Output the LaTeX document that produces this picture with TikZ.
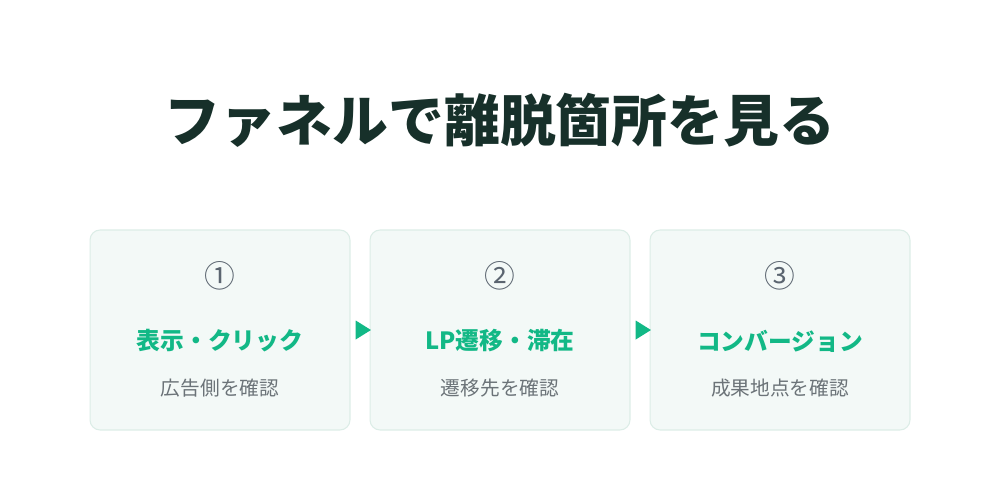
\documentclass[tikz,border=0pt]{standalone}
\usepackage{fontspec}
\setmainfont{Noto Sans CJK JP}
\usetikzlibrary{shapes.geometric}
\definecolor{titleink}{HTML}{17302A}
\definecolor{mint}{HTML}{12B886}
\definecolor{numink}{HTML}{5B6570}
\definecolor{subink}{HTML}{6B7378}
\definecolor{cardfill}{HTML}{F3F9F7}
\definecolor{cardline}{HTML}{DCEDE7}
\tikzset{
  cardbox/.style={draw=cardline, fill=cardfill, line width=0.6pt, rounded corners=0.2cm,
    minimum width=5.2cm, minimum height=4cm, inner sep=0pt},
  numtxt/.style={text=numink, font=\fontsize{17.5}{18}\selectfont},
  headtxt/.style={text=mint, font=\fontsize{13.5}{14}\selectfont\bfseries},
  subtxt/.style={text=subink, font=\fontsize{11.2}{12}\selectfont},
  pointer/.style={isosceles triangle, isosceles triangle apex angle=64, fill=mint,
    inner sep=0pt, minimum height=0.24cm, minimum width=0.38cm}
}
\begin{document}
\begin{tikzpicture}[x=0.02cm,y=-0.02cm]
      \useasboundingbox[fill=white] (0,0) rectangle (1000,480);
      \node[text=titleink, font=\fontsize{31.8}{32}\selectfont\bfseries] (title) at (500,120) {ファネルで離脱箇所を見る};
      % three cards
      \node[cardbox] (card1) at (220,330) {};
      \node[cardbox] (card2) at (500,330) {};
      \node[cardbox] (card3) at (780,330) {};
      \node[numtxt] (num1) at (220,276) {①};
      \node[numtxt] (num2) at (500,276) {②};
      \node[numtxt] (num3) at (780,276) {③};
      \node[headtxt] (head1) at (220,341) {表示・クリック};
      \node[headtxt] (head2) at (500,341) {LP遷移・滞在};
      \node[headtxt] (head3) at (780,341) {コンバージョン};
      \node[subtxt] (sub1) at (220,388) {広告側を確認};
      \node[subtxt] (sub2) at (500,388) {遷移先を確認};
      \node[subtxt] (sub3) at (780,388) {成果地点を確認};
      % pointers between cards
      \node[pointer] (gap1) at (361,330) {};
      \node[pointer] (gap2) at (641,330) {};
    \end{tikzpicture}
\end{document}
